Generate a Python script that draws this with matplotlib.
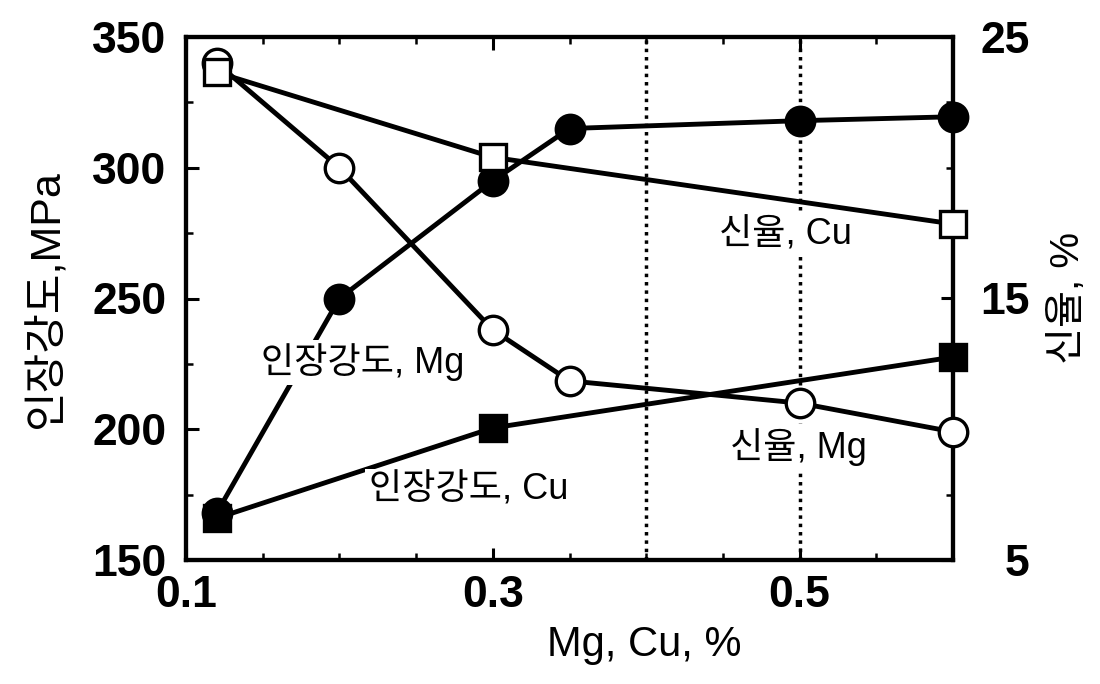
import matplotlib
matplotlib.use("Agg")
import matplotlib.pyplot as plt
from matplotlib.ticker import MultipleLocator, FixedLocator

plt.rcParams['font.family'] = ['Liberation Sans', 'Noto Sans CJK KR', 'DejaVu Sans']

# Data (x = Mg or Cu content, %)
x_mg = [0.12, 0.2, 0.3, 0.35, 0.5, 0.6]
x_cu = [0.12, 0.3, 0.6]
ts_mg = [168, 250, 295, 315, 318, 319.5]      # tensile strength, MPa (Mg)
ts_cu = [166, 200.5, 227.6]                   # tensile strength, MPa (Cu)
el_mg = [24.0, 20.0, 13.8, 11.85, 11.0, 9.9]  # elongation, % (Mg)
el_cu = [23.65, 20.4, 17.85]                  # elongation, % (Cu)
vlines = [0.4, 0.5]
xticks = [0.1, 0.3, 0.5]
yticks_left = [150, 200, 250, 300, 350]
yticks_right = [5, 15, 25]

fig = plt.figure(figsize=(11, 6.84), dpi=100)
ax = fig.add_axes([186/1100, 1-560/684, (953-186)/1100, (560-37)/684])
ax2 = ax.twinx()

lw = 3.5
ms_c = 20.5
ms_s = 19
mew = 2.4

for v in vlines:
    ax.axvline(v, color='black', ls=(0, (1, 1.4)), lw=2.5, zorder=1)

ax.plot(x_mg, ts_mg, color='black', lw=lw, marker='o', ms=ms_c, mfc='black', mec='black', mew=mew, zorder=3, clip_on=False)
ax.plot(x_cu, ts_cu, color='black', lw=lw, marker='s', ms=ms_s, mfc='black', mec='black', mew=mew, zorder=4, clip_on=False)
ax2.plot(x_mg, el_mg, color='black', lw=lw, marker='o', ms=ms_c, mfc='white', mec='black', mew=mew, zorder=3, clip_on=False)
ax2.plot(x_cu, el_cu, color='black', lw=lw, marker='s', ms=ms_s, mfc='white', mec='black', mew=mew, zorder=4, clip_on=False)

ax.set_xlim(0.1, 0.6)
ax.set_ylim(150, 350)
ax2.set_ylim(5, 25)

ax.xaxis.set_major_locator(FixedLocator(xticks))
ax.xaxis.set_minor_locator(MultipleLocator(0.05))
ax.yaxis.set_major_locator(FixedLocator(yticks_left))
ax.yaxis.set_minor_locator(MultipleLocator(25))
ax2.yaxis.set_major_locator(FixedLocator(yticks_right))
ax2.yaxis.set_minor_locator(MultipleLocator(2.5))

ax.set_xticklabels([f"{t:.1f}" for t in xticks])
ax.set_yticklabels([str(t) for t in yticks_left])
ax2.set_yticklabels([str(t) for t in yticks_right])

for a in (ax, ax2):
    for s in a.spines.values():
        s.set_linewidth(3)
    a.tick_params(which='major', direction='in', length=9, width=2.2, labelsize=32)
    a.tick_params(which='minor', direction='in', length=5, width=1.8)

ax.tick_params(axis='x', which='both', top=True, pad=11)
ax.tick_params(axis='y', which='both', right=False, pad=14)
ax2.tick_params(axis='y', which='both', pad=55)
for lab in ax.get_xticklabels() + ax.get_yticklabels() + ax2.get_yticklabels():
    lab.set_fontweight('bold')
for lab in ax2.get_yticklabels():
    lab.set_horizontalalignment('right')

ax.set_xlabel("Mg, Cu, %", fontsize=30, labelpad=8)
ax.xaxis.set_label_coords(0.598, -0.125)
ax.set_ylabel("인장강도,MPa", fontsize=31, labelpad=18)
ax2.set_ylabel("신율, %", fontsize=29, labelpad=14)

tkw = dict(fontsize=26, ha='center', va='center', transform=ax.transData, zorder=20,
           bbox=dict(boxstyle='square,pad=0.1', fc='white', ec='none'))
ax2.text(0.491, 274.3, "신율, Cu", **tkw)
ax2.text(0.4995, 193.2, "신율, Mg", **tkw)
ax2.text(0.284, 176.8, "인장강도, Cu", **tkw)
ax2.text(0.215, 225.7, "인장강도, Mg", **tkw)

fig.savefig("out.png", dpi=100)
